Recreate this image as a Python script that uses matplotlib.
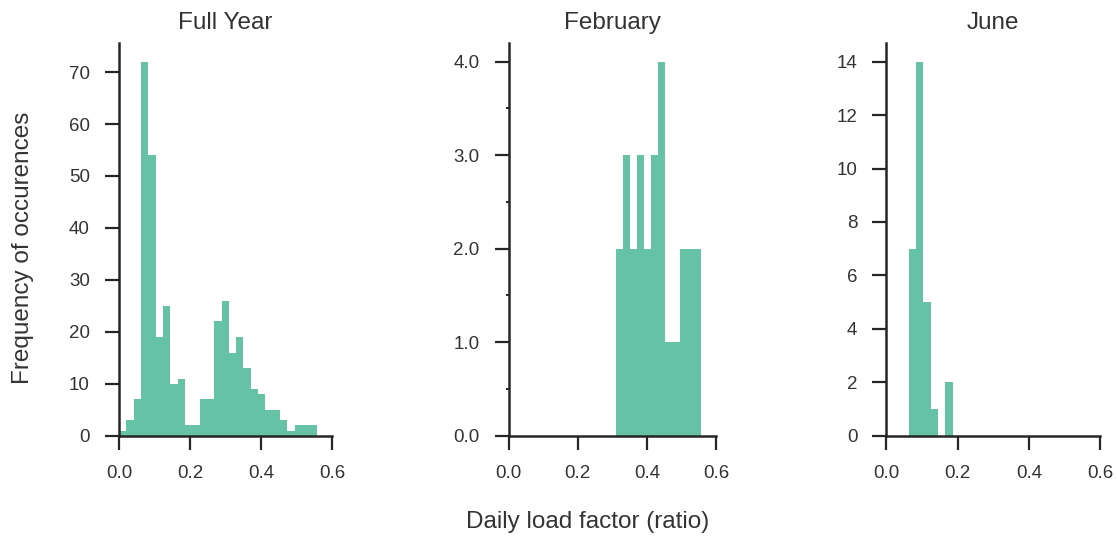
import numpy as np
import matplotlib
matplotlib.use("Agg")
import matplotlib.pyplot as plt
from matplotlib.ticker import MultipleLocator, FormatStrFormatter

# histogram bins shared by all three panels (daily load factor)
LOAD_MIN = 0.0
LOAD_MAX = 0.557
N_BINS = 27

# counts per bin
full_year = [1, 3, 7, 72, 54, 19, 25, 10, 11, 2, 2, 7, 7, 22, 26, 16, 19, 13,
             9, 8, 5, 5, 3, 1, 2, 2, 2]
february = [0, 0, 0, 0, 0, 0, 0, 0, 0, 0, 0, 0, 0, 0, 0, 2, 3, 2,
            3, 2, 3, 4, 1, 1, 2, 2, 2]
june = [0, 0, 0, 7, 14, 5, 1, 0, 2, 0, 0, 0, 0, 0, 0, 0, 0, 0,
        0, 0, 0, 0, 0, 0, 0, 0, 0]

titles = ["Full Year", "February", "June"]
x_ticks = [0.0, 0.2, 0.4, 0.6]

BAR_COLOR = "#66c2a5"
INK = "#262626"
TEXT = "#333333"

plt.rcParams["font.family"] = ["Liberation Sans", "DejaVu Sans"]

fig = plt.figure(figsize=(11.18, 5.37), dpi=100)
W, H = 1118, 537
boxes = [(119, 213), (508.5, 207.5), (886.5, 213.5)]
top_px, bottom_px = 43, 435.7

edges = np.linspace(LOAD_MIN, LOAD_MAX, N_BINS + 1)

axes = []
for (left, width), counts, title in zip(boxes, [full_year, february, june], titles):
    ax = fig.add_axes([left / W, 1 - bottom_px / H, width / W, (bottom_px - top_px) / H])
    ax.stairs(counts, edges, fill=True, color=BAR_COLOR, linewidth=0)
    ax.set_xlim(0, 0.6)
    ax.set_xticks(x_ticks)
    ax.xaxis.set_major_formatter(FormatStrFormatter("%.1f"))
    for side in ["top", "right"]:
        ax.spines[side].set_visible(False)
    for side in ["left", "bottom"]:
        ax.spines[side].set_linewidth(1.8)
        ax.spines[side].set_color(INK)
    ax.tick_params(which="major", direction="out", length=10, width=1.6,
                   color=INK, labelcolor=TEXT, labelsize=13.5, pad=11)
    ax.tick_params(which="minor", direction="out", length=2.5, width=1.4, color=INK)
    ax.set_title(title, fontsize=17.5, color=TEXT, pad=10)
    axes.append(ax)

axes[0].yaxis.set_major_locator(MultipleLocator(10))
axes[1].yaxis.set_major_locator(MultipleLocator(1))
axes[1].yaxis.set_minor_locator(MultipleLocator(0.5))
axes[1].yaxis.set_major_formatter(FormatStrFormatter("%.1f"))
axes[2].yaxis.set_major_locator(MultipleLocator(2))

fig.text(588 / W, 1 - 522 / H, "Daily load factor (ratio)", ha="center",
         va="center", fontsize=17.5, color=TEXT)
fig.text(23 / W, 1 - 248 / H, "Frequency of occurences", ha="center",
         va="center", rotation=90, fontsize=17.5, color=TEXT)

fig.savefig("out.png", dpi=100, facecolor="white")
